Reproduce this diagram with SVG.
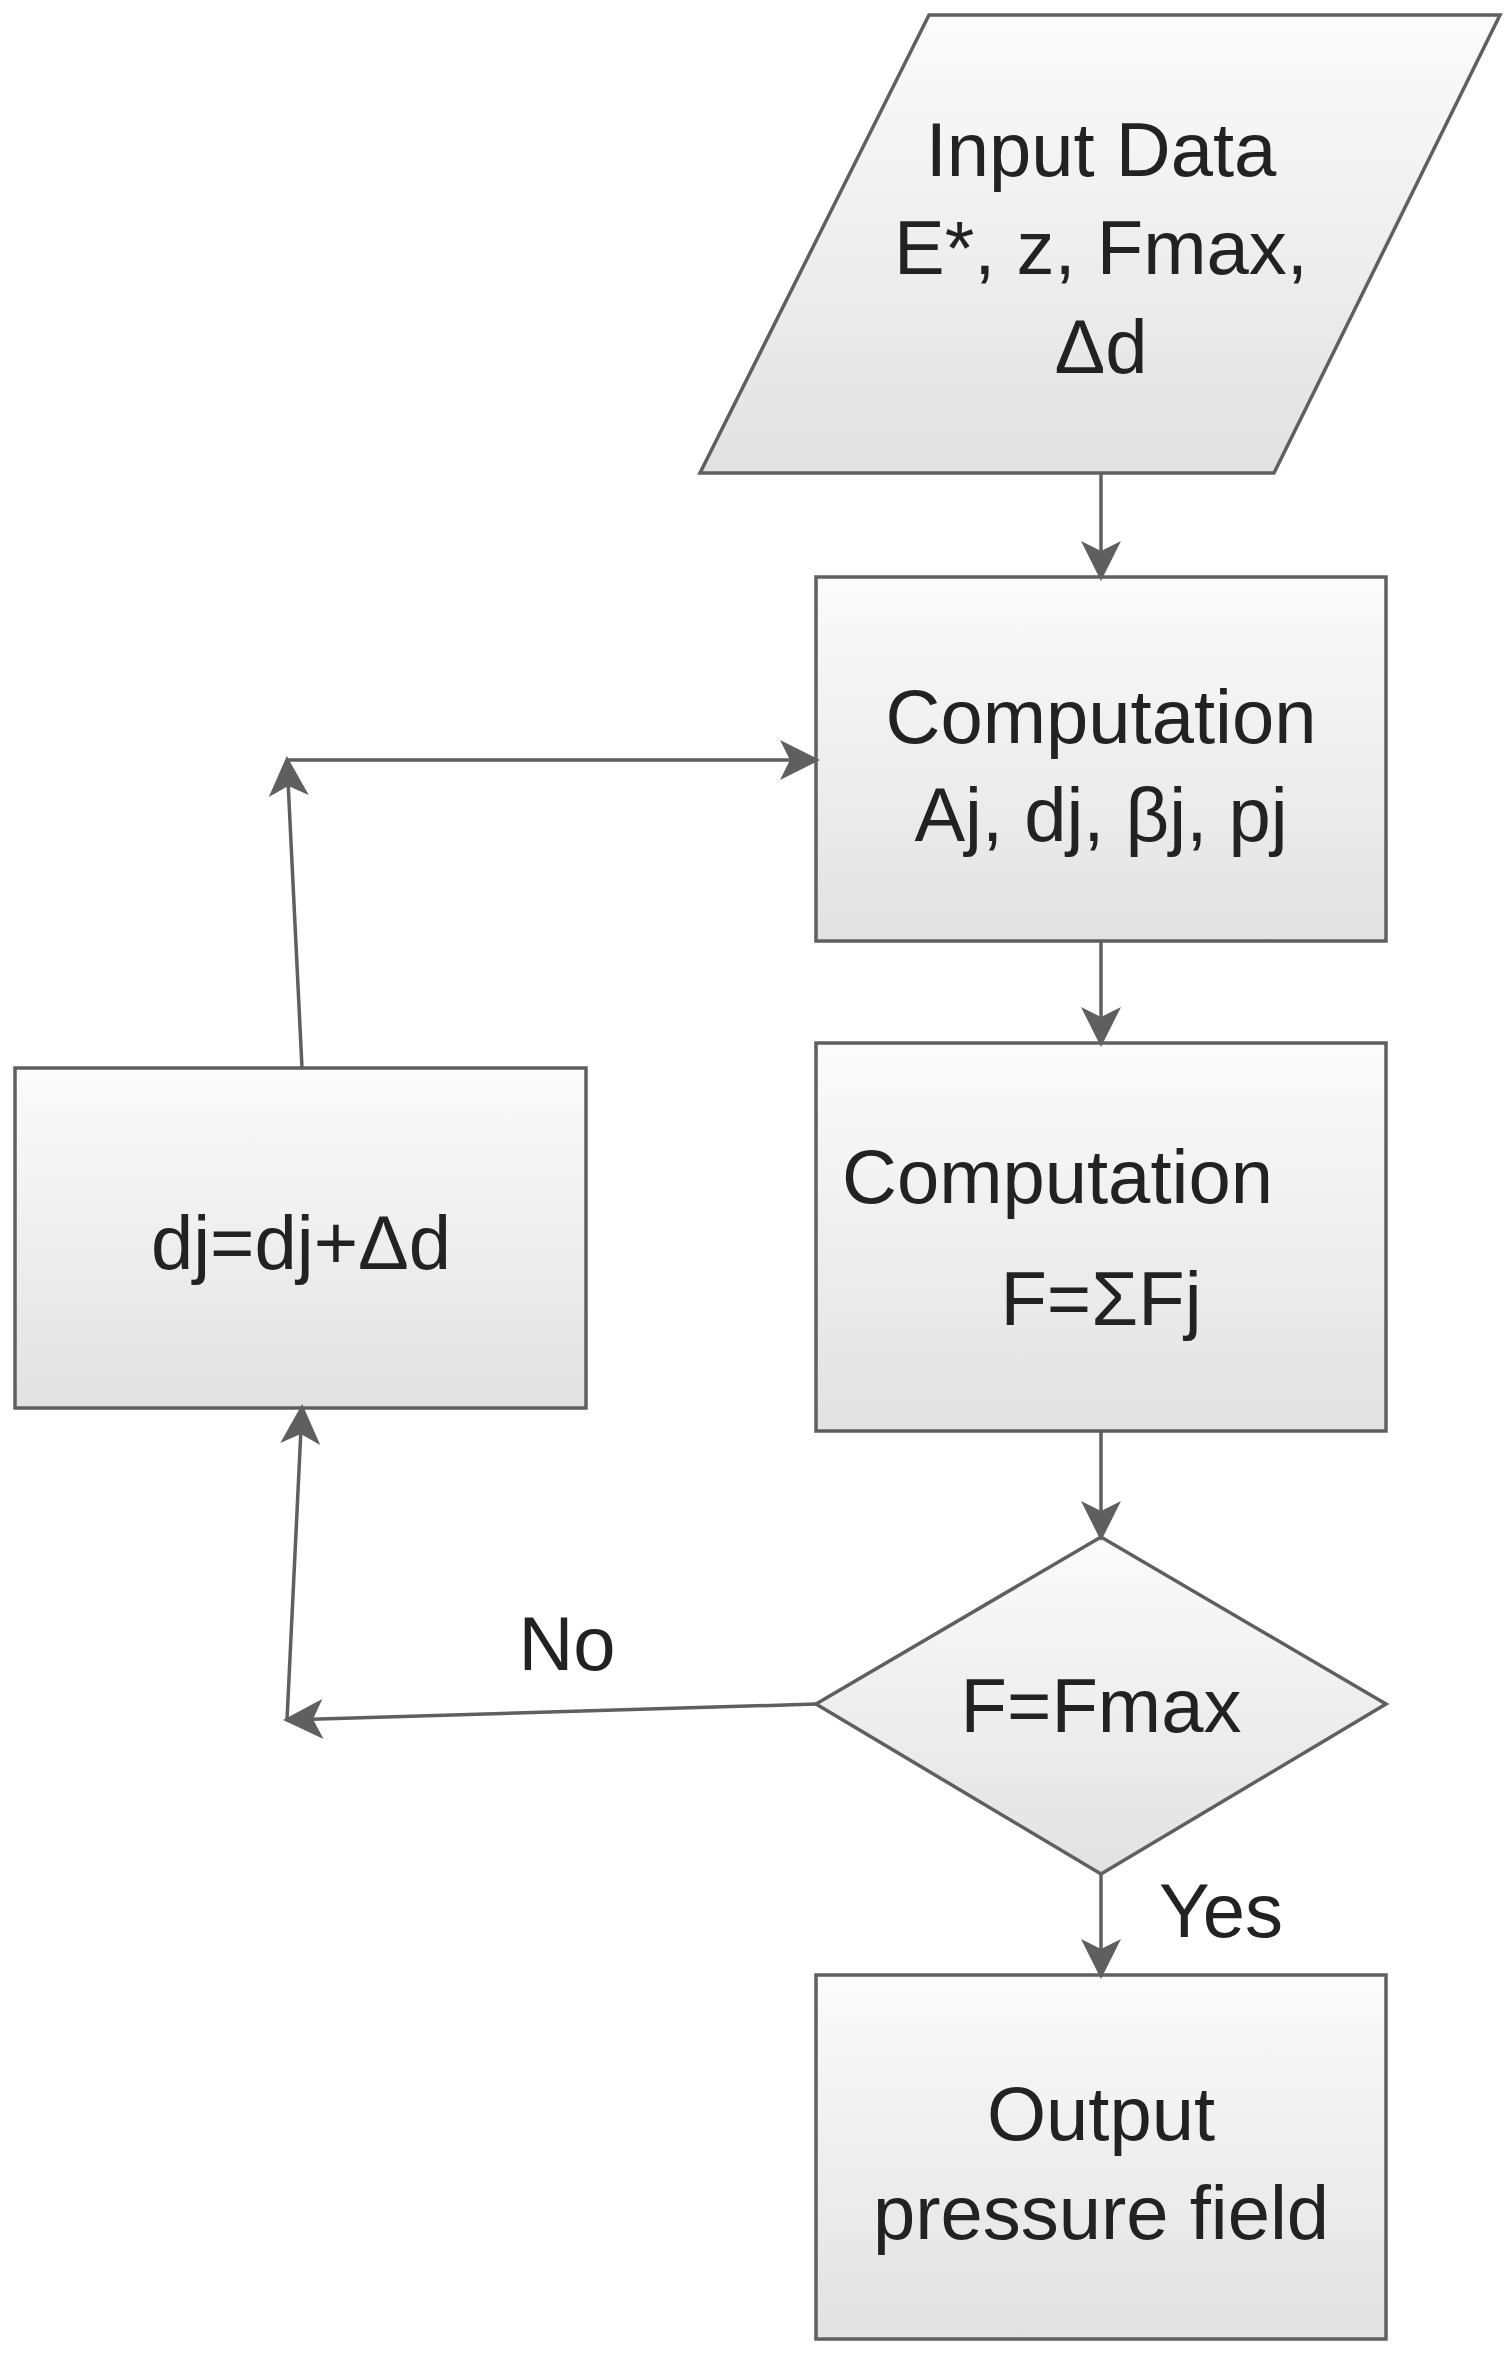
<svg xmlns="http://www.w3.org/2000/svg" width="1511" height="2369" viewBox="0 0 1511 2369">
<defs>
<linearGradient id="g" x1="0" y1="0" x2="0" y2="1"><stop offset="0" stop-color="#fbfbfb"/><stop offset="1" stop-color="#e2e2e2"/></linearGradient>
<marker id="a" viewBox="0 0 10 10" refX="9" refY="5" markerWidth="40" markerHeight="40" markerUnits="userSpaceOnUse" orient="auto"><path d="M0,0 L10,5 L0,10 L2.5,5 z" fill="#5f5f5f"/></marker>
<style>
.n{fill:url(#g);stroke:#5f5f5f;stroke-width:3.5}
.c{fill:none;stroke:#5f5f5f;stroke-width:3.5;marker-end:url(#a)}
text{font-family:"Liberation Sans",Arial,sans-serif;font-size:76px;fill:#222;text-anchor:middle}
</style>
</defs>
<g id="input"><polygon class="n" points="929,15 1500,15 1274,473 700,473"/>
<text x="1101" y="176">Input Data</text><text x="1101" y="274">E*, z, Fmax,</text><text x="1101" y="373">Δd</text></g>
<g id="comp1"><rect class="n" x="816" y="577" width="570" height="364"/>
<text x="1101" y="743">Computation</text><text x="1101" y="841">Aj, dj, βj, pj</text></g>
<g id="comp2"><rect class="n" x="816" y="1043" width="570" height="388"/>
<text x="842" y="1203" style="text-anchor:start">Computation</text><text x="1101" y="1325">F=ΣFj</text></g>
<g id="update"><rect class="n" x="15" y="1068" width="571" height="340"/>
<text x="301" y="1269">dj=dj+Δd</text></g>
<g id="decision"><polygon class="n" points="816,1704 1101,1537 1386,1704 1101,1874"/>
<text x="1101" y="1732">F=Fmax</text></g>
<g id="output"><rect class="n" x="816" y="1975" width="570" height="364"/>
<text x="1101" y="2140">Output</text><text x="1101" y="2239">pressure field</text></g>
<g id="connectors">
<line class="c" x1="1101" y1="473" x2="1101" y2="577"/>
<line class="c" x1="1101" y1="941" x2="1101" y2="1043"/>
<line class="c" x1="1101" y1="1431" x2="1101" y2="1537"/>
<line class="c" x1="1101" y1="1874" x2="1101" y2="1975"/>
<line class="c" x1="816" y1="1704" x2="287" y2="1720"/>
<line class="c" x1="287" y1="1720" x2="302" y2="1408"/>
<line class="c" x1="302" y1="1068" x2="287" y2="760"/>
<line class="c" x1="287" y1="760" x2="816" y2="760"/>
<text x="567" y="1670">No</text><text x="1221" y="1937">Yes</text>
</g>
</svg>
